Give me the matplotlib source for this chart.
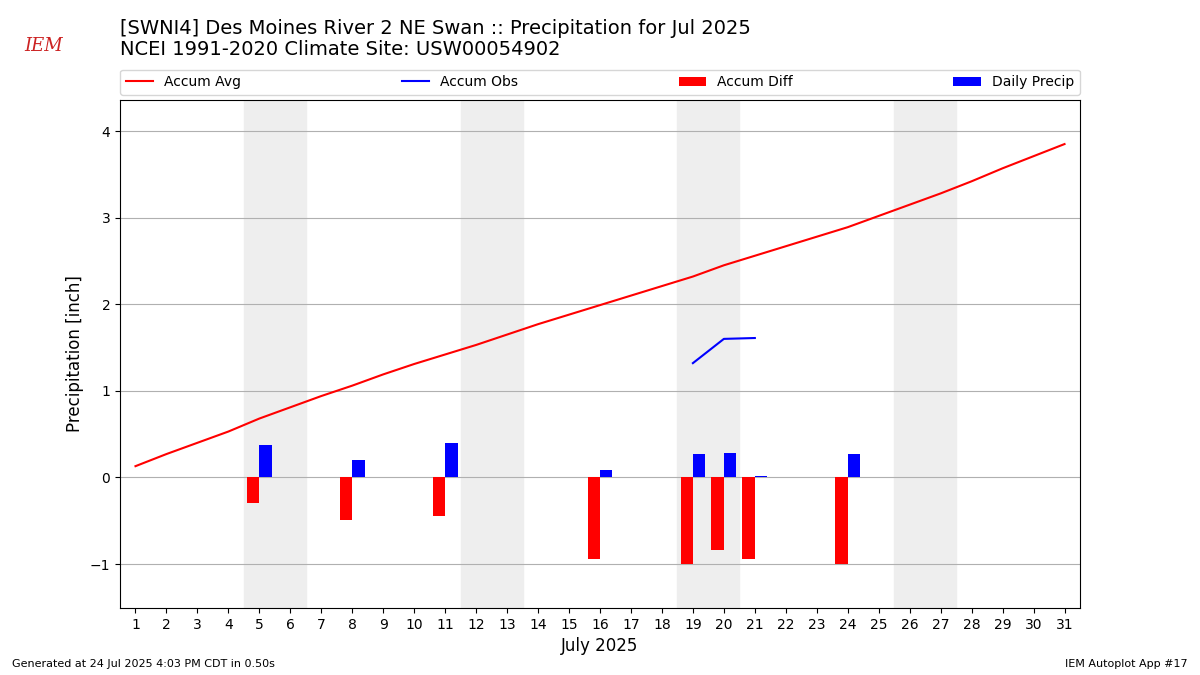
import matplotlib
matplotlib.use("Agg")
import matplotlib.pyplot as plt
import numpy as np

days = list(range(1, 32))
accum_avg = [0.13, 0.27, 0.40, 0.53, 0.68, 0.81, 0.94, 1.06, 1.19, 1.31, 1.42, 1.53, 1.65,
             1.77, 1.88, 1.99, 2.10, 2.21, 2.32, 2.45, 2.56, 2.67, 2.78, 2.89, 3.02, 3.15,
             3.28, 3.42, 3.57, 3.71, 3.85]
obs_days = [19, 20, 21]
accum_obs = [1.32, 1.60, 1.61]
bar_days = [5, 8, 11, 16, 19, 20, 21, 24]
daily_precip = [0.37, 0.20, 0.40, 0.08, 0.27, 0.28, 0.02, 0.27]
accum_diff = [-0.30, -0.49, -0.44, -0.94, -1.00, -0.84, -0.94, -1.00]
weekends = [5, 12, 19, 26]

fig = plt.figure(figsize=(12, 6.75), dpi=100)
ax = fig.add_axes([0.1, 0.099, 0.8, 0.753])
for w in weekends:
    ax.axvspan(w - 0.5, w + 1.5, color="#eeeeee", zorder=0)
ax.plot(days, accum_avg, color="red", label="Accum Avg", zorder=3)
ax.plot(obs_days, accum_obs, color="blue", label="Accum Obs", zorder=3)
bd = np.array(bar_days)
ax.bar(bd - 0.2, accum_diff, width=0.4, color="red", label="Accum Diff", zorder=2)
ax.bar(bd + 0.2, daily_precip, width=0.4, color="blue", label="Daily Precip", zorder=2)
ax.set_xlim(0.5, 31.5)
ax.set_ylim(-1.51, 4.36)
ax.set_xticks(days)
ax.set_yticks([-1, 0, 1, 2, 3, 4])
ax.set_yticklabels(["\u22121", "0", "1", "2", "3", "4"])
ax.grid(axis="y", color="#b0b0b0", zorder=1)
ax.set_axisbelow(True)
ax.set_xlabel("July 2025", fontsize=12)
ax.set_ylabel("Precipitation [inch]", fontsize=12)
ax.legend(loc="lower left", bbox_to_anchor=(0, 1.01, 1, 0.1), mode="expand", ncol=4,
          fontsize=10, borderaxespad=0)
fig.text(0.1, 0.944, "[SWNI4] Des Moines River 2 NE Swan :: Precipitation for Jul 2025",
         fontsize=14, va="bottom")
fig.text(0.1, 0.912, "NCEI 1991-2020 Climate Site: USW00054902", fontsize=14, va="bottom")
fig.text(0.01, 0.012, "Generated at 24 Jul 2025 4:03 PM CDT in 0.50s", fontsize=8)
fig.text(0.99, 0.012, "IEM Autoplot App #17", fontsize=8, ha="right")
fig.text(0.02, 0.925, "IEM", fontsize=13, color="#cc2222", style="italic", family="DejaVu Serif")
fig.savefig("out.png", dpi=100)
